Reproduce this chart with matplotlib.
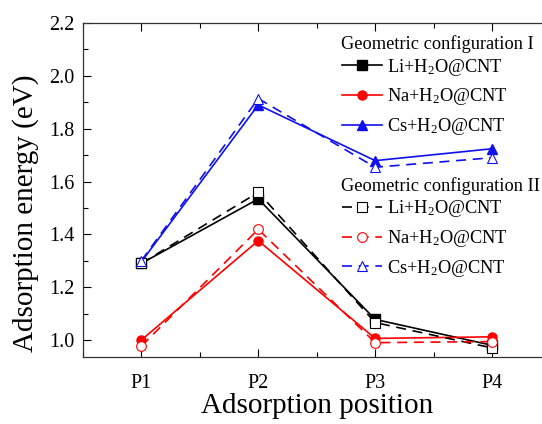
import matplotlib
matplotlib.use("Agg")
import matplotlib.pyplot as plt
from matplotlib.ticker import MultipleLocator

plt.rcParams['font.family'] = ['Liberation Serif', 'DejaVu Serif']
plt.rcParams['mathtext.fontset'] = 'custom'
plt.rcParams['mathtext.rm'] = 'Liberation Serif'
plt.rcParams['mathtext.it'] = 'Liberation Serif:italic'

positions = ['P1', 'P2', 'P3', 'P4']
x = [1, 2, 3, 4]

# configuration I (solid, filled markers)
li_1 = [1.29, 1.534, 1.078, 0.98]
na_1 = [1.00, 1.376, 1.006, 1.012]
cs_1 = [1.296, 1.89, 1.679, 1.724]

# configuration II (dashed, open markers)
li_2 = [1.29, 1.559, 1.066, 0.97]
na_2 = [0.977, 1.419, 0.99, 0.994]
cs_2 = [1.30, 1.914, 1.654, 1.69]

labels = [r'Li+H$_2$O@CNT', r'Na+H$_2$O@CNT', r'Cs+H$_2$O@CNT']
colors = ['black', 'red', '#1010ee']
markers = ['s', 'o', '^']

fig = plt.figure(figsize=(5.42, 4.24), dpi=100)
ax = fig.add_axes([0.153, 0.158, 0.8627, 0.7877])

h1 = []
for vals, c, m, lab in zip([li_1, na_1, cs_1], colors, markers, labels):
    ln, = ax.plot(x, vals, color=c, marker=m, ms=6.5, lw=1.2, label=lab)
    h1.append(ln)

h2 = []
for vals, c, m, lab in zip([li_2, na_2, cs_2], colors, markers, labels):
    ln, = ax.plot(x, vals, color=c, marker=m, ms=7, lw=1.2, ls=(0, (6, 4)),
                  mfc='white', mec=c, mew=0.8, label=lab)
    h2.append(ln)

ax.set_xlim(0.5, 4.5)
ax.set_ylim(0.9356, 2.2)
ax.set_xticks(x)
ax.set_xticklabels(positions)
ax.xaxis.set_minor_locator(MultipleLocator(0.5))
ax.yaxis.set_major_locator(MultipleLocator(0.2))
ax.yaxis.set_minor_locator(MultipleLocator(0.1))
ax.tick_params(which='both', direction='in', top=True, right=False,
               labelsize=14.5)
ax.tick_params(axis='y', pad=6)
ax.tick_params(axis='x', pad=12.5)
ax.tick_params(which='major', length=6, width=0.8)
ax.tick_params(which='minor', length=3.5, width=0.8)
for s in ax.spines.values():
    s.set_linewidth(0.9)
    s.set_color('#333333')

ax.set_xlabel('Adsorption position', fontsize=21, labelpad=0)
ax.set_ylabel('Adsorption energy (eV)', fontsize=21)
ax.yaxis.set_label_coords(-0.093, 0.43)

fs_leg = 13.2
leg_kw = dict(frameon=False, fontsize=fs_leg,
              handlelength=2.2, handletextpad=0.25, labelspacing=0.47,
              borderaxespad=0, borderpad=0,
              bbox_transform=fig.transFigure, loc='upper left')
fig.text(0.629, 1 - 44 / 424, 'Geometric configuration I', fontsize=fs_leg,
         ha='left', va='center')
leg1 = ax.legend(handles=h1, bbox_to_anchor=(0.631, 0.866), **leg_kw)
ax.add_artist(leg1)
fig.text(0.629, 1 - 186 / 424, 'Geometric configuration II', fontsize=fs_leg,
         ha='left', va='center')
ax.legend(handles=h2, bbox_to_anchor=(0.631, 0.532), **leg_kw)

fig.savefig('out.png', dpi=100)
